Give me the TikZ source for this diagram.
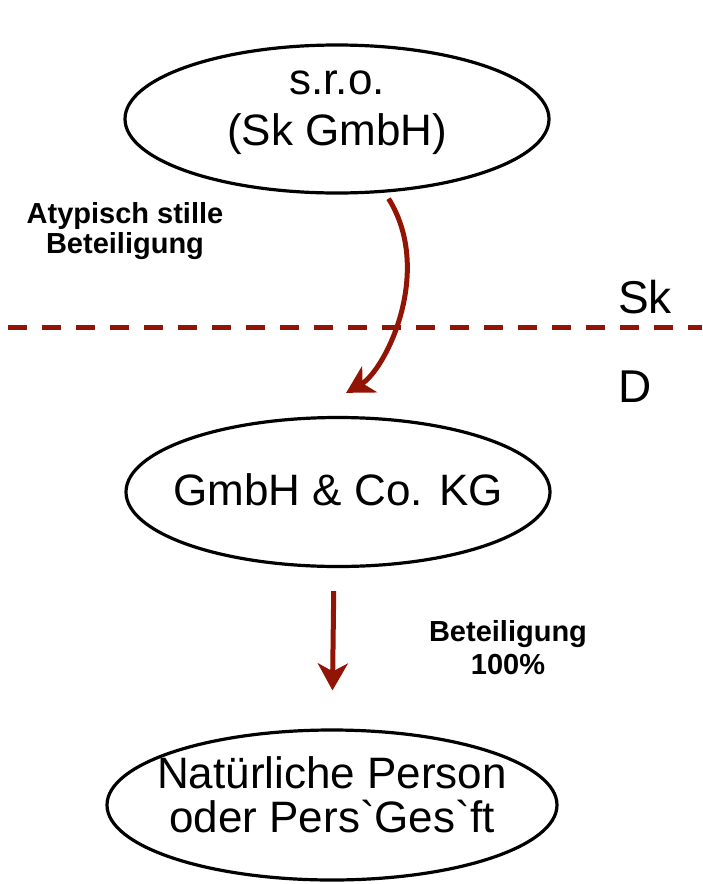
\documentclass[tikz,border=0pt]{standalone}
\usepackage{fontspec}
\setmainfont{Liberation Sans}[Ligatures=TeXOff]
\usetikzlibrary{arrows.meta,shapes.geometric}

\definecolor{darkred}{RGB}{146,20,4}

\begin{document}
\begin{tikzpicture}[x=0.5pt,y=0.5pt,>={Stealth[length=13.5pt,width=15pt,inset=4pt]},line width=1.6pt]
  \tikzset{firm/.style={ellipse,draw,inner sep=0pt},
           firmtext/.style={align=center,font=\fontsize{22}{22}\selectfont},
           link/.style={->,draw=darkred,line width=2.5pt},
           note/.style={align=center,font=\fontsize{14.5}{15}\selectfont\bfseries},
           country/.style={anchor=base west,font=\fontsize{23}{23}\selectfont}}
  \useasboundingbox (0,0) rectangle (702,-884);
  \node[firm,minimum width=212pt,minimum height=74pt,
        label={[firmtext,yshift=3pt]center:s.r.o.\\[3.5pt](Sk GmbH)}] (sro) at (337,-119) {};
  \node[firm,minimum width=212pt,minimum height=74.5pt,
        label={[firmtext,yshift=1pt]center:GmbH \& Co. KG}] (kg) at (338,-492) {};
  \node[firm,minimum width=225pt,minimum height=75pt,
        label={[firmtext,yshift=5pt]center:Natürliche Person\\oder Pers`Ges`ft}] (person) at (332,-805) {};
  \node[note] (atyp) at (125,-231) {Atypisch stille\\Beteiligung};
  \node[note,font=\fontsize{14.5}{16.5}\selectfont\bfseries] (share) at (508,-648) {Beteiligung\\100\%};
  % border between the two countries
  \coordinate (bl) at (8,-327);
  \coordinate (br) at (702,-327);
  \draw[darkred,line width=2.5pt,dash pattern=on 9.5pt off 7.5pt] (bl) -- (br);
  \node[country] (sk) at (610,-313) {Sk};
  \node[country] (d) at (610,-402) {D};
  \path[link,shorten <=3.5pt,shorten >=24pt] (sro.-57) to[out=-58,in=30] (kg.114);
  \path[link,shorten <=11.5pt,shorten >=19pt] (kg.-93) -- (person.north);
\end{tikzpicture}
\end{document}
